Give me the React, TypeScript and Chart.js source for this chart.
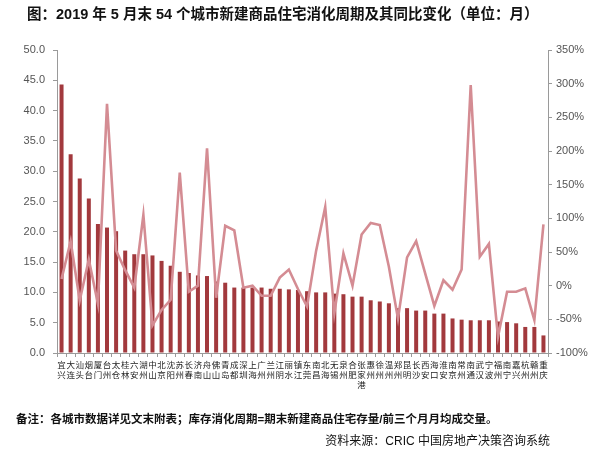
import React, { useEffect, useRef } from "react";
import { Chart, registerables } from "chart.js";

Chart.register(...registerables);

const cities: string[] = [
  "宜兴", "大连", "汕头", "烟台", "厦门", "台州", "太仓", "桂林", "六安", "湖州",
  "中山", "北京", "沈阳", "苏州", "长春", "济南", "舟山", "佛山", "青岛", "成都",
  "深圳", "上海", "广州", "兰州", "江阴", "丽水", "镇江", "东莞", "南昌", "北海",
  "无锡", "泉州", "合肥", "张家港", "惠州", "徐州", "温州", "郑州", "昆明", "长沙",
  "西安", "海口", "淮安", "南京", "常州", "南通", "武汉", "宁波", "福州", "南宁",
  "嘉兴", "杭州", "赣州", "重庆",
];

const cyclesMonths: number[] = [
  44.3, 32.8, 28.8, 25.5, 21.3, 20.7, 20.1, 16.9, 16.3, 16.3,
  16.1, 15.2, 14.4, 13.4, 13.2, 12.8, 12.7, 11.8, 11.6, 10.8,
  10.8, 10.8, 10.8, 10.6, 10.6, 10.5, 10.4, 10.2, 10.0, 10.0,
  9.8, 9.7, 9.3, 9.3, 8.7, 8.5, 8.2, 7.4, 7.4, 7.0,
  7.0, 6.5, 6.5, 5.7, 5.5, 5.4, 5.4, 5.4, 5.2, 5.1,
  4.9, 4.3, 4.3, 2.9,
];

const yoyPercent: number[] = [
  10, 66, -22, 39, -27, 270, 52, 23, -3, 105,
  -59, -36, -21, 168, -9, 0, 204, -18, 89, 82,
  -3, 0, -15, -15, 12, 24, -5, -31, 52, 117,
  -41, 48, 0, 76, 93, 90, 28, -49, 42, 66,
  18, -30, 8, -6, 24, 298, 43, 62, -76, -9,
  -9, -4, -51, 91,
];

const leftTicks = { min: 0, max: 50, step: 5 };
const rightTicks = { min: -100, max: 350, step: 50 };

const titleText = "图：2019 年 5 月末 54 个城市新建商品住宅消化周期及其同比变化（单位：月）";
const noteText = "备注：各城市数据详见文末附表；库存消化周期=期末新建商品住宅存量/前三个月月均成交量。";
const sourceText = "资料来源：CRIC 中国房地产决策咨询系统";

const FONT = '"Liberation Sans", "Noto Sans CJK SC", sans-serif';

export default function App() {
  const ref = useRef<HTMLCanvasElement | null>(null);

  useEffect(() => {
    if (!ref.current) return;
    const chart = new Chart(ref.current, {
      type: "bar",
      data: {
        labels: cities.map((c) => c.split("")),
        datasets: [
          {
            type: "line",
            label: "同比变化",
            data: yoyPercent,
            yAxisID: "y2",
            borderColor: "#d48c93",
            backgroundColor: "#d48c93",
            borderWidth: 2.6,
            pointRadius: 0,
            tension: 0,
            order: 0,
          } as any,
          {
            type: "bar",
            label: "消化周期",
            data: cyclesMonths,
            yAxisID: "y",
            backgroundColor: "#a2393d",
            categoryPercentage: 1,
            barPercentage: 0.44,
            order: 1,
          },
        ],
      },
      options: {
        responsive: false,
        animation: false,
        maintainAspectRatio: false,
        layout: { padding: { top: 50, left: 0, right: 0, bottom: 0 } },
        plugins: { legend: { display: false }, tooltip: { enabled: false }, title: { display: false } },
        scales: {
          x: {
            grid: { display: true, drawOnChartArea: false, drawTicks: true, tickLength: 4, color: "#9a9a9a", offset: true },
            border: { color: "#9a9a9a", width: 1 },
            ticks: {
              autoSkip: false,
              maxRotation: 0,
              minRotation: 0,
              padding: 3,
              color: "#222",
              font: { family: '"Noto Sans CJK SC", sans-serif', size: 8.5, lineHeight: 1.15 },
            },
            afterFit: (s: any) => { s.height = 103; },
          },
          y: {
            position: "left",
            min: leftTicks.min,
            max: leftTicks.max,
            grid: { drawOnChartArea: false, drawTicks: true, tickLength: 4, color: "#9a9a9a" },
            border: { color: "#9a9a9a", width: 1 },
            ticks: {
              stepSize: leftTicks.step,
              padding: 8,
              color: "#555",
              font: { family: FONT, size: 11 },
              callback: (v: any) => Number(v).toFixed(1),
            },
            afterFit: (s: any) => { s.width = 57; },
          },
          y2: {
            position: "right",
            min: rightTicks.min,
            max: rightTicks.max,
            grid: { drawOnChartArea: false, drawTicks: true, tickLength: 4, color: "#9a9a9a" },
            border: { color: "#9a9a9a", width: 1 },
            ticks: {
              stepSize: rightTicks.step,
              padding: 4,
              color: "#555",
              font: { family: FONT, size: 11 },
              callback: (v: any) => `${v}%`,
            },
            afterFit: (s: any) => { s.width = 52; },
          },
        },
      },
    });
    return () => chart.destroy();
  }, []);

  return (
    <div style={{ position: "fixed", left: 0, top: 0, width: 600, height: 456, background: "#fff", overflow: "hidden" }}>
      <canvas ref={ref} width={600} height={456} style={{ position: "absolute", left: 0, top: 0, width: 600, height: 456 }} />
      <div style={{ position: "absolute", left: 27, top: 5, fontFamily: FONT, fontWeight: "bold", fontSize: 14.5, color: "#111", whiteSpace: "nowrap", lineHeight: "18px" }}>
        {titleText}
      </div>
      <div style={{ position: "absolute", left: 16, top: 411, fontFamily: FONT, fontWeight: "bold", fontSize: 11.5, color: "#111", whiteSpace: "nowrap", lineHeight: "16px" }}>
        {noteText}
      </div>
      <div style={{ position: "absolute", right: 50, top: 433, fontFamily: FONT, fontSize: 12, color: "#111", whiteSpace: "nowrap", lineHeight: "16px" }}>
        {sourceText}
      </div>
    </div>
  );
}
